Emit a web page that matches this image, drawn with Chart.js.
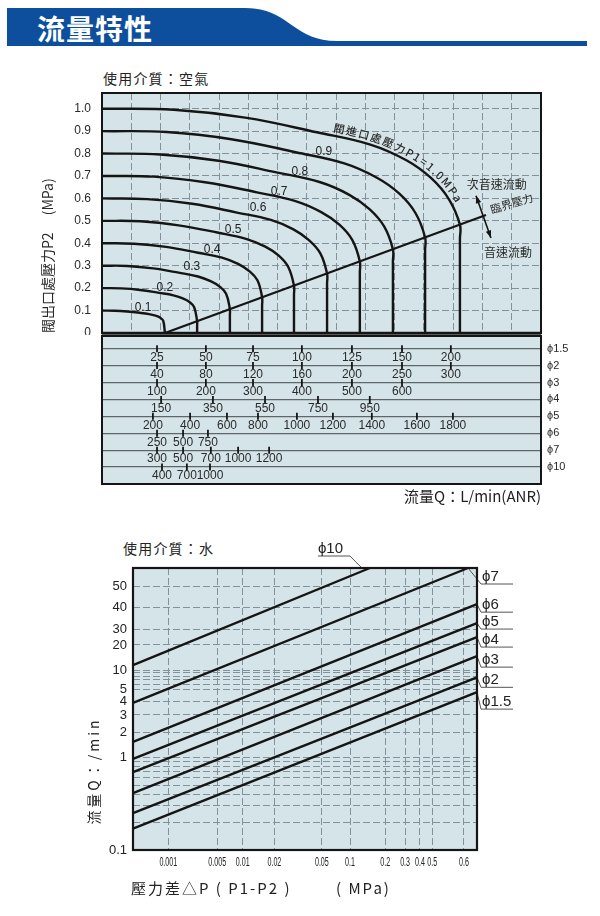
<!DOCTYPE html>
<html lang="zh-Hant">
<head>
<meta charset="utf-8">
<title>流量特性</title>
<script src="https://cdn.jsdelivr.net/npm/chart.js@4.4.1/dist/chart.umd.min.js"></script>
<style>
  html, body { margin:0; padding:0; background:#fff; }
  body { position:relative; width:600px; height:916px; overflow:hidden;
         font-family:"Noto Sans CJK TC","Noto Sans CJK SC",sans-serif; color:#222; }
  .abs { position:absolute; white-space:nowrap; }
  .medium { font-size:14px; letter-spacing:1.2px; line-height:20px; }
  .axtitle { font-size:14px; line-height:18px; color:#222; }
  canvas { position:absolute; left:0; }
</style>
</head>
<body>
<svg class="abs" style="left:0;top:0" width="600" height="52">
  <path d="M7,8 H245 C290,8 292,41 337,41 H587 V46 H7 Z" fill="#0e4f9d"/>
  <text x="37" y="40" fill="#fff" font-size="28" font-weight="700" font-family="Noto Sans CJK TC" letter-spacing="1">流量特性</text>
</svg>
<div class="abs medium" style="left:103px;top:68px">使用介質：空氣</div>
<canvas id="airCurves" width="600" height="250" style="top:85px"></canvas>
<canvas id="airScales" width="600" height="176" style="top:330px"></canvas>
<div class="abs medium" style="left:123px;top:538px">使用介質：水</div>
<canvas id="water" width="600" height="381" style="top:535px"></canvas>
<div class="abs axtitle" style="left:131px;top:879px;font-size:15px;letter-spacing:2px">壓力差△P ( P1-P2 )</div>
<div class="abs axtitle" style="left:336px;top:879px;font-size:15px;letter-spacing:2px">( MPa)</div>
<div class="abs axtitle" style="left:36px;top:762px;width:114px;text-align:center;letter-spacing:3px;transform:rotate(-90deg);transform-origin:50% 50%">流量Q：/min</div>

<script>
// ================= DATA : air (使用介質：空氣) =================
// Flow axis is common to all orifice rows (unit = one grid column of the chart).
const inletPressures = [0.1, 0.2, 0.3, 0.4, 0.5, 0.6, 0.7, 0.8, 0.9, 1.0];
const flow_p01 = [0, 0.43, 0.86, 1.29, 1.61, 1.83, 1.98, 2.09, 2.15];
const p2_p01   = [0.1, 0.0995, 0.096, 0.09, 0.084, 0.077, 0.069, 0.055, 0];
const flow_p02 = [0, 0.65, 1.30, 1.95, 2.44, 2.76, 2.99, 3.15, 3.25, 3.25, 3.25];
const p2_p02   = [0.2, 0.199, 0.192, 0.179, 0.168, 0.154, 0.138, 0.115, 0.052, 0.03, 0];
const flow_p03 = [0, 0.87, 1.75, 2.62, 3.28, 3.71, 4.02, 4.24, 4.37, 4.37, 4.37];
const p2_p03   = [0.3, 0.299, 0.288, 0.269, 0.252, 0.231, 0.207, 0.175, 0.106, 0.08, 0];
const flow_p04 = [0, 1.09, 2.19, 3.28, 4.10, 4.65, 5.03, 5.31, 5.47, 5.47, 5.47];
const p2_p04   = [0.4, 0.398, 0.384, 0.358, 0.336, 0.308, 0.276, 0.235, 0.159, 0.12, 0];
const flow_p05 = [0, 1.31, 2.62, 3.94, 4.92, 5.58, 6.04, 6.36, 6.56, 6.56, 6.56];
const p2_p05   = [0.5, 0.498, 0.48, 0.448, 0.42, 0.385, 0.345, 0.295, 0.211, 0.17, 0];
const flow_p06 = [0, 1.54, 3.08, 4.61, 5.77, 6.54, 7.07, 7.46, 7.69, 7.69, 7.69];
const p2_p06   = [0.6, 0.597, 0.576, 0.537, 0.504, 0.462, 0.414, 0.355, 0.265, 0.22, 0];
const flow_p07 = [0, 1.76, 3.52, 5.29, 6.61, 7.49, 8.11, 8.55, 8.81, 8.81, 8.81];
const p2_p07   = [0.7, 0.697, 0.672, 0.627, 0.588, 0.539, 0.483, 0.415, 0.319, 0.27, 0];
const flow_p08 = [0, 1.99, 3.98, 5.96, 7.46, 8.45, 9.14, 9.64, 9.94, 9.94, 9.94];
const p2_p08   = [0.8, 0.796, 0.768, 0.716, 0.672, 0.616, 0.552, 0.475, 0.373, 0.32, 0];
const flow_p09 = [0, 2.21, 4.42, 6.62, 8.28, 9.38, 10.16, 10.71, 11.04, 11.04, 11.04];
const p2_p09   = [0.9, 0.896, 0.864, 0.806, 0.756, 0.693, 0.621, 0.535, 0.426, 0.37, 0];
const flow_p10 = [0, 2.45, 4.89, 7.34, 9.17, 10.40, 11.25, 11.86, 12.23, 12.23, 12.23];
const p2_p10   = [1.0, 0.995, 0.96, 0.895, 0.84, 0.77, 0.69, 0.595, 0.483, 0.42, 0];
const criticalFlow = [2.15, 13.12];
const criticalP2   = [0, 0.526];
const outletPressureTicks = [0, 0.1, 0.2, 0.3, 0.4, 0.5, 0.6, 0.7, 0.8, 0.9, 1.0];
const curveLabels = ['0.1', '0.2', '0.3', '0.4', '0.5', '0.6', '0.7', '0.8', '0.9'];

// flow-scale rows (orifice size -> flow values in L/min(ANR) and where they sit on the common flow axis)
const orificeRows = ['ϕ1.5', 'ϕ2', 'ϕ3', 'ϕ4', 'ϕ5', 'ϕ6', 'ϕ7', 'ϕ10'];
const phi15Flow = [25, 50, 75, 100, 125, 150, 200];
const phi15At   = [1.88, 3.55, 5.16, 6.83, 8.54, 10.25, 11.92];
const phi2Flow  = [40, 80, 120, 160, 200, 250, 300];
const phi2At    = [1.88, 3.55, 5.16, 6.83, 8.54, 10.25, 11.92];
const phi3Flow  = [100, 200, 300, 400, 500, 600];
const phi3At    = [1.88, 3.55, 5.16, 6.83, 8.54, 10.25];
const phi4Flow  = [150, 350, 550, 750, 950];
const phi4At    = [2.02, 3.79, 5.57, 7.38, 9.15];
const phi5Flow  = [200, 400, 600, 800, 1000, 1200, 1400, 1600, 1800];
const phi5At    = [1.74, 3.01, 4.27, 5.33, 6.66, 7.89, 9.22, 10.76, 11.99];
const phi6Flow  = [250, 500, 750];
const phi6At    = [1.88, 2.77, 3.62];
const phi7Flow  = [300, 500, 700, 1000, 1200];
const phi7At    = [1.88, 2.77, 3.72, 4.65, 5.71];
const phi10Flow = [400, 700, 1000];
const phi10At   = [2.05, 2.90, 3.69];

// ================= DATA : water (使用介質：水) =================
const waterSizes  = ['ϕ1.5', 'ϕ2', 'ϕ3', 'ϕ4', 'ϕ5', 'ϕ6', 'ϕ7', 'ϕ10'];
const waterDpFrom = [0.0003, 0.0003, 0.0003, 0.0003, 0.0003, 0.0003, 0.0003, 0.0003];
const waterQFrom  = [0.17, 0.25, 0.41, 0.69, 0.96, 1.54, 3.9, 11.5];
const waterDpTo   = [0.7, 0.7, 0.7, 0.7, 0.7, 0.7, 0.63, 0.148];
const waterQTo    = [4.75, 7.7, 14.7, 24.5, 32.5, 41.3, 60, 60];
const dpTicks      = [0.001, 0.005, 0.01, 0.02, 0.05, 0.1, 0.2, 0.3, 0.4, 0.5, 0.6];
const dpTickLabels = ['0.001', '0.005', '0.01', '0.02', '0.05', '0.1', '0.2', '0.3', '0.4', '0.5', '0.6'];
const qTicks       = [0.1, 1, 2, 3, 4, 5, 10, 20, 30, 40, 50];
const qMinorGrid   = [0.2, 0.3, 0.4, 0.5, 0.6, 0.7, 0.8, 0.9, 6, 7, 8, 9];

// ================= STYLE / CONFIG =================
const CJK = '"Noto Sans CJK TC", "Noto Sans CJK SC", sans-serif';
const LAT = '"Liberation Sans", Arial, sans-serif';
const PLOT_BG = '#d5e4e9';
const GRID = '#83919a';
const DASH = [7, 3];
const INK = '#151515';

// calibration of the printed (hand-drawn) logarithmic axes: [value, fraction of axis length]
const dpAxisCalib = [[0.0003, 0], [0.001, 0.1026], [0.005, 0.245], [0.01, 0.319], [0.02, 0.411], [0.05, 0.549],
                     [0.1, 0.631], [0.2, 0.733], [0.3, 0.791], [0.4, 0.834], [0.5, 0.870], [0.6, 0.962], [0.7, 1]];
const qAxisCalib  = [[0.1, 0], [1, 0.329], [2, 0.416], [3, 0.479], [4, 0.526], [5, 0.570], [10, 0.638],
                     [20, 0.727], [30, 0.783], [40, 0.861], [50, 0.936], [60, 1]];
// annotation anchors (axis units)
const curveLabelAt = { flow: [1.40, 2.15, 3.07, 3.76, 4.48, 5.33, 6.05, 6.76, 7.58],
                       p2:   [0.112, 0.201, 0.295, 0.371, 0.46, 0.558, 0.629, 0.719, 0.808] };
const waterLabelDrop = [17, 10, 11, 10, 6, 8, 16];

Chart.defaults.font.family = LAT;
Chart.defaults.color = '#222';
Chart.defaults.animation = false;
Chart.defaults.events = [];
Chart.defaults.plugins.legend.display = false;
Chart.defaults.plugins.tooltip.enabled = false;

const noPad = s => { s.paddingTop = 0; s.paddingBottom = 0; s.paddingLeft = 0; s.paddingRight = 0; };

// ---------- custom scale : piecewise-logarithmic (matches the printed axis) ----------
class CalibratedLogScale extends Chart.Scale {
  static id = 'calibratedLog';
  static defaults = {};
  determineDataLimits() {
    const c = this.options.calibration;
    this.min = c[0][0]; this.max = c[c.length - 1][0];
  }
  buildTicks() { return this.options.tickValues.map(v => ({ value: v })); }
  getLabelForValue(v) { return String(v); }
  _toDecimal(v) {
    const c = this.options.calibration, lv = Math.log10(v);
    let i = 0;
    while (i < c.length - 2 && lv > Math.log10(c[i + 1][0])) i++;
    const a = Math.log10(c[i][0]), b = Math.log10(c[i + 1][0]);
    return c[i][1] + (lv - a) / (b - a) * (c[i + 1][1] - c[i][1]);
  }
  getPixelForValue(v) { return this.getPixelForDecimal(this._toDecimal(v)); }
  getValueForPixel(p) {
    const d = this.getDecimalForPixel(p), c = this.options.calibration;
    let i = 0;
    while (i < c.length - 2 && d > c[i + 1][1]) i++;
    const a = Math.log10(c[i][0]), b = Math.log10(c[i + 1][0]);
    return Math.pow(10, a + (d - c[i][1]) / (c[i + 1][1] - c[i][1]) * (b - a));
  }
}
Chart.register(CalibratedLogScale);

// ---------- generic plugins ----------
const plotBg = {
  id: 'plotBg',
  beforeDraw(chart, args, o) {
    const { ctx, chartArea: a } = chart;
    ctx.save(); ctx.fillStyle = o.color || PLOT_BG;
    ctx.fillRect(a.left, a.top, a.width, a.height); ctx.restore();
  }
};
const frame = {
  id: 'frame',
  afterDraw(chart, args, o) {
    const { ctx, chartArea: a } = chart;
    ctx.save(); ctx.strokeStyle = INK; ctx.lineWidth = o.width || 2;
    ctx.strokeRect(a.left, a.top, a.width, a.height);
    if (o.bottom) { ctx.lineWidth = o.bottom; ctx.beginPath(); ctx.moveTo(a.left, a.bottom); ctx.lineTo(a.right, a.bottom); ctx.stroke(); }
    if (o.top) { ctx.lineWidth = o.top; ctx.beginPath(); ctx.moveTo(a.left, a.top); ctx.lineTo(a.right, a.top); ctx.stroke(); }
    ctx.restore();
  }
};

// sample the drawn (bezier) path of a line dataset
function sampleCurve(meta) {
  const pts = meta.data, out = [];
  for (let i = 0; i < pts.length - 1; i++) {
    const a = pts[i], b = pts[i + 1];
    const c1x = a.cp2x ?? a.x, c1y = a.cp2y ?? a.y, c2x = b.cp1x ?? b.x, c2y = b.cp1y ?? b.y;
    for (let k = (i ? 1 : 0); k <= 30; k++) {
      const t = k / 30, m = 1 - t;
      out.push({ x: m*m*m*a.x + 3*m*m*t*c1x + 3*m*t*t*c2x + t*t*t*b.x,
                 y: m*m*m*a.y + 3*m*m*t*c1y + 3*m*t*t*c2y + t*t*t*b.y });
    }
  }
  let s = 0; out[0].s = 0;
  for (let i = 1; i < out.length; i++) { s += Math.hypot(out[i].x - out[i-1].x, out[i].y - out[i-1].y); out[i].s = s; }
  return out;
}
function posAt(poly, s) {
  for (let i = 1; i < poly.length; i++) {
    if (poly[i].s >= s) {
      const p = poly[i-1], q = poly[i], t = (s - p.s) / ((q.s - p.s) || 1);
      return { x: p.x + (q.x - p.x) * t, y: p.y + (q.y - p.y) * t };
    }
  }
  return poly[poly.length - 1];
}
function arrowHead(ctx, x, y, ang, size) {
  ctx.beginPath();
  ctx.moveTo(x, y);
  ctx.lineTo(x - size * Math.cos(ang - 0.35), y - size * Math.sin(ang - 0.35));
  ctx.lineTo(x - size * Math.cos(ang + 0.35), y - size * Math.sin(ang + 0.35));
  ctx.closePath(); ctx.fill();
}

// ---------- air chart annotations ----------
const airNotes = {
  id: 'airNotes',
  afterDatasetsDraw(chart) {
    const { ctx, scales: { x, y } } = chart;
    ctx.save();
    ctx.fillStyle = '#222';
    ctx.font = `12px ${LAT}`; ctx.textAlign = 'center'; ctx.textBaseline = 'middle';
    curveLabels.forEach((t, i) => ctx.fillText(t, x.getPixelForValue(curveLabelAt.flow[i]), y.getPixelForValue(curveLabelAt.p2[i])));

    // text along the P1 = 1.0 MPa curve
    const poly = sampleCurve(chart.getDatasetMeta(inletPressures.length - 1));
    const startX = x.getPixelForValue(7.85);
    let s = (poly.find(p => p.x >= startX) || poly[0]).s;
    const text = '閥進口處壓力P1=1.0MPa';
    ctx.font = `500 11px ${CJK}`; ctx.fillStyle = '#2a2a2a';
    for (const ch of text) {
      const w = ctx.measureText(ch).width;
      const c = posAt(poly, s + w / 2), p0 = posAt(poly, s + w / 2 - 4), p1 = posAt(poly, s + w / 2 + 4);
      const ang = Math.atan2(p1.y - p0.y, p1.x - p0.x);
      const off = 8;
      ctx.save();
      ctx.translate(c.x + Math.sin(ang) * off, c.y - Math.cos(ang) * off);
      ctx.rotate(ang);
      ctx.fillText(ch, 0, 0);
      ctx.restore();
      s += w + 1.4;
    }

    // double arrow across critical-pressure line
    const ax1 = x.getPixelForValue(12.78), ay1 = y.getPixelForValue(0.612);
    const ax2 = x.getPixelForValue(13.29), ay2 = y.getPixelForValue(0.424);
    ctx.strokeStyle = INK; ctx.fillStyle = INK; ctx.lineWidth = 1.6;
    ctx.beginPath(); ctx.moveTo(ax1, ay1); ctx.lineTo(ax2, ay2); ctx.stroke();
    const ang = Math.atan2(ay2 - ay1, ax2 - ax1);
    arrowHead(ctx, ax2, ay2, ang, 8);
    arrowHead(ctx, ax1, ay1, ang + Math.PI, 8);

    ctx.fillStyle = '#2a2a2a';
    ctx.font = `12px ${CJK}`; ctx.textAlign = 'center'; ctx.textBaseline = 'middle';
    ctx.fillText('次音速流動', x.getPixelForValue(13.49), y.getPixelForValue(0.661));
    ctx.fillText('音速流動', x.getPixelForValue(13.87), y.getPixelForValue(0.357));
    const lx1 = x.getPixelForValue(criticalFlow[0]), ly1 = y.getPixelForValue(criticalP2[0]);
    const lx2 = x.getPixelForValue(criticalFlow[1]), ly2 = y.getPixelForValue(criticalP2[1]);
    ctx.save();
    ctx.translate(x.getPixelForValue(14.0), y.getPixelForValue(0.578));
    ctx.rotate(Math.atan2(ly2 - ly1, lx2 - lx1) * 0.82);
    ctx.font = `11px ${CJK}`;
    ctx.fillText('臨界壓力', 0, 0);
    ctx.restore();
    ctx.restore();
  }
};

// ---------- air chart : pressure curves ----------
const curveFlows = [flow_p01, flow_p02, flow_p03, flow_p04, flow_p05, flow_p06, flow_p07, flow_p08, flow_p09, flow_p10];
const curveP2s   = [p2_p01, p2_p02, p2_p03, p2_p04, p2_p05, p2_p06, p2_p07, p2_p08, p2_p09, p2_p10];
const curveSets = inletPressures.map((p, i) => ({
  label: 'P1=' + p.toFixed(1) + 'MPa',
  data: curveFlows[i].map((q, j) => ({ x: q, y: curveP2s[i][j] })),
  borderColor: INK, borderWidth: 2.4, pointRadius: 0, fill: false, tension: 0.4
}));
curveSets.push({
  label: '臨界壓力',
  data: criticalFlow.map((q, j) => ({ x: q, y: criticalP2[j] })),
  borderColor: INK, borderWidth: 2.2, pointRadius: 0, fill: false, tension: 0
});

new Chart(document.getElementById('airCurves'), {
  type: 'line',
  data: { datasets: curveSets },
  options: {
    responsive: false,
    layout: { padding: { left: 30, right: 59, top: 8, bottom: 2 } },
    scales: {
      x: { type: 'linear', min: 0, max: 15, position: 'bottom',
           afterFit: s => { s.height = 0; noPad(s); },
           ticks: { display: false, stepSize: 1 },
           grid: { color: GRID, lineWidth: 1, drawTicks: false },
           border: { display: false, dash: DASH } },
      y: { type: 'linear', min: 0, max: 1.07, position: 'left',
           afterBuildTicks: s => { s.ticks = outletPressureTicks.map(v => ({ value: v })); },
           afterFit: s => { s.width = 72; noPad(s); },
           ticks: { autoSkip: false, padding: 11, color: '#2a2a2a', font: { size: 12 },
                    callback: v => (v === 0 ? '0' : v.toFixed(1)) },
           grid: { color: GRID, lineWidth: 1, drawTicks: false },
           border: { display: false, dash: DASH },
           title: { display: true, text: '閥出口處壓力P2　 (MPa)', align: 'start', color: '#2a2a2a',
                    font: { family: CJK, size: 14 }, padding: { top: 9, bottom: 0 } } }
    },
    plugins: { plotBg: { color: PLOT_BG }, frame: { width: 2, bottom: 2.6 } }
  },
  plugins: [plotBg, frame, airNotes]
});

// ---------- air chart : flow scale rows ----------
const rowFlows = [phi15Flow, phi2Flow, phi3Flow, phi4Flow, phi5Flow, phi6Flow, phi7Flow, phi10Flow];
const rowAts   = [phi15At, phi2At, phi3At, phi4At, phi5At, phi6At, phi7At, phi10At];
const rowValueLabels = {
  id: 'rowValueLabels',
  afterDatasetsDraw(chart) {
    const { ctx } = chart;
    ctx.save();
    ctx.font = `12px ${LAT}`; ctx.fillStyle = '#2a2a2a'; ctx.textAlign = 'center'; ctx.textBaseline = 'middle';
    chart.data.datasets.forEach((ds, i) => {
      chart.getDatasetMeta(i).data.forEach((pt, j) => ctx.fillText(String(rowFlows[i][j]), pt.x, pt.y + 9));
    });
    ctx.restore();
  }
};
new Chart(document.getElementById('airScales'), {
  type: 'scatter',
  data: {
    datasets: orificeRows.map((name, i) => ({
      label: name,
      data: rowAts[i].map(u => ({ x: u, y: i + 1 })),
      pointStyle: 'line', rotation: 90, pointRadius: 3.5,
      borderColor: INK, borderWidth: 1.8, backgroundColor: INK
    }))
  },
  options: {
    responsive: false,
    layout: { padding: { left: 102, right: 0, top: 3, bottom: 1 } },
    scales: {
      x: { type: 'linear', min: 0, max: 15,
           afterFit: s => { s.height = 21; noPad(s); },
           ticks: { display: false }, grid: { display: false }, border: { display: false },
           title: { display: true, text: '流量Q：L/min(ANR)', align: 'end', color: '#222',
                    font: { family: CJK, size: 15 }, padding: { top: 3, bottom: 0 } } },
      y: { type: 'linear', position: 'right', min: 0.24, max: 9, reverse: true,
           afterBuildTicks: s => { s.ticks = orificeRows.map((n, i) => ({ value: i + 1 })); },
           afterFit: s => { s.width = 59; noPad(s); },
           ticks: { autoSkip: false, padding: 6, color: '#2a2a2a', font: { size: 11 },
                    callback: v => orificeRows[v - 1] },
           grid: { color: '#5f6669', lineWidth: 1.3, drawTicks: false },
           border: { display: false } }
    },
    plugins: { plotBg: { color: PLOT_BG }, frame: { width: 2, top: 2.6 } }
  },
  plugins: [plotBg, frame, rowValueLabels]
});

// ---------- water chart ----------
const waterNotes = {
  id: 'waterNotes',
  afterDatasetsDraw(chart) {
    const { ctx, chartArea: a, scales: { x } } = chart;
    ctx.save();
    ctx.strokeStyle = '#555'; ctx.lineWidth = 1; ctx.fillStyle = '#222';
    ctx.font = `15px ${LAT}`; ctx.textAlign = 'left'; ctx.textBaseline = 'alphabetic';
    waterSizes.forEach((name, i) => {
      const meta = chart.getDatasetMeta(i);
      const end = meta.data[meta.data.length - 1];
      if (i === waterSizes.length - 1) {
        const uy = a.top - 12, ux = end.x - 20;
        ctx.beginPath(); ctx.moveTo(end.x - 8, a.top); ctx.lineTo(ux, uy); ctx.lineTo(ux - 32, uy); ctx.stroke();
        ctx.fillText(name, ux - 32, uy - 3);
      } else {
        const uy = end.y + waterLabelDrop[i];
        ctx.beginPath(); ctx.moveTo(end.x, end.y); ctx.lineTo(a.right + 4, uy); ctx.lineTo(a.right + 36, uy); ctx.stroke();
        ctx.fillText(name, a.right + 5, uy - 3);
      }
    });
    // condensed ΔP tick labels
    ctx.font = `12.5px ${LAT}`; ctx.textAlign = 'center'; ctx.textBaseline = 'middle'; ctx.fillStyle = '#222';
    dpTicks.forEach((v, i) => {
      ctx.save();
      ctx.translate(x.getPixelForValue(v), a.bottom + 13);
      ctx.scale(0.57, 1);
      ctx.fillText(dpTickLabels[i], 0, 0);
      ctx.restore();
    });
    ctx.restore();
  }
};
new Chart(document.getElementById('water'), {
  type: 'line',
  data: {
    datasets: waterSizes.map((name, i) => ({
      label: name,
      data: [{ x: waterDpFrom[i], y: waterQFrom[i] }, { x: waterDpTo[i], y: waterQTo[i] }],
      borderColor: INK, borderWidth: 2.4, pointRadius: 0, fill: false, tension: 0
    }))
  },
  options: {
    responsive: false,
    layout: { padding: { left: 78, right: 123, top: 33, bottom: 0 } },
    scales: {
      x: { type: 'calibratedLog', calibration: dpAxisCalib, tickValues: dpTicks, position: 'bottom',
           afterFit: s => { s.height = 66; noPad(s); },
           ticks: { display: false, autoSkip: false },
           grid: { color: GRID, lineWidth: 1, drawTicks: false },
           border: { display: false, dash: DASH } },
      y: { type: 'calibratedLog', calibration: qAxisCalib,
           tickValues: qTicks.concat(qMinorGrid).sort((a, b) => a - b), position: 'left',
           afterFit: s => { s.width = 55; noPad(s); },
           ticks: { autoSkip: false, padding: 6, color: '#222', font: { size: 13 },
                    callback: v => (qTicks.includes(v) ? String(v) : '') },
           grid: { color: GRID, lineWidth: 1, drawTicks: false },
           border: { display: false, dash: DASH } }
    },
    plugins: { plotBg: { color: PLOT_BG }, frame: { width: 2.2 } }
  },
  plugins: [plotBg, frame, waterNotes]
});
</script>
</body>
</html>
